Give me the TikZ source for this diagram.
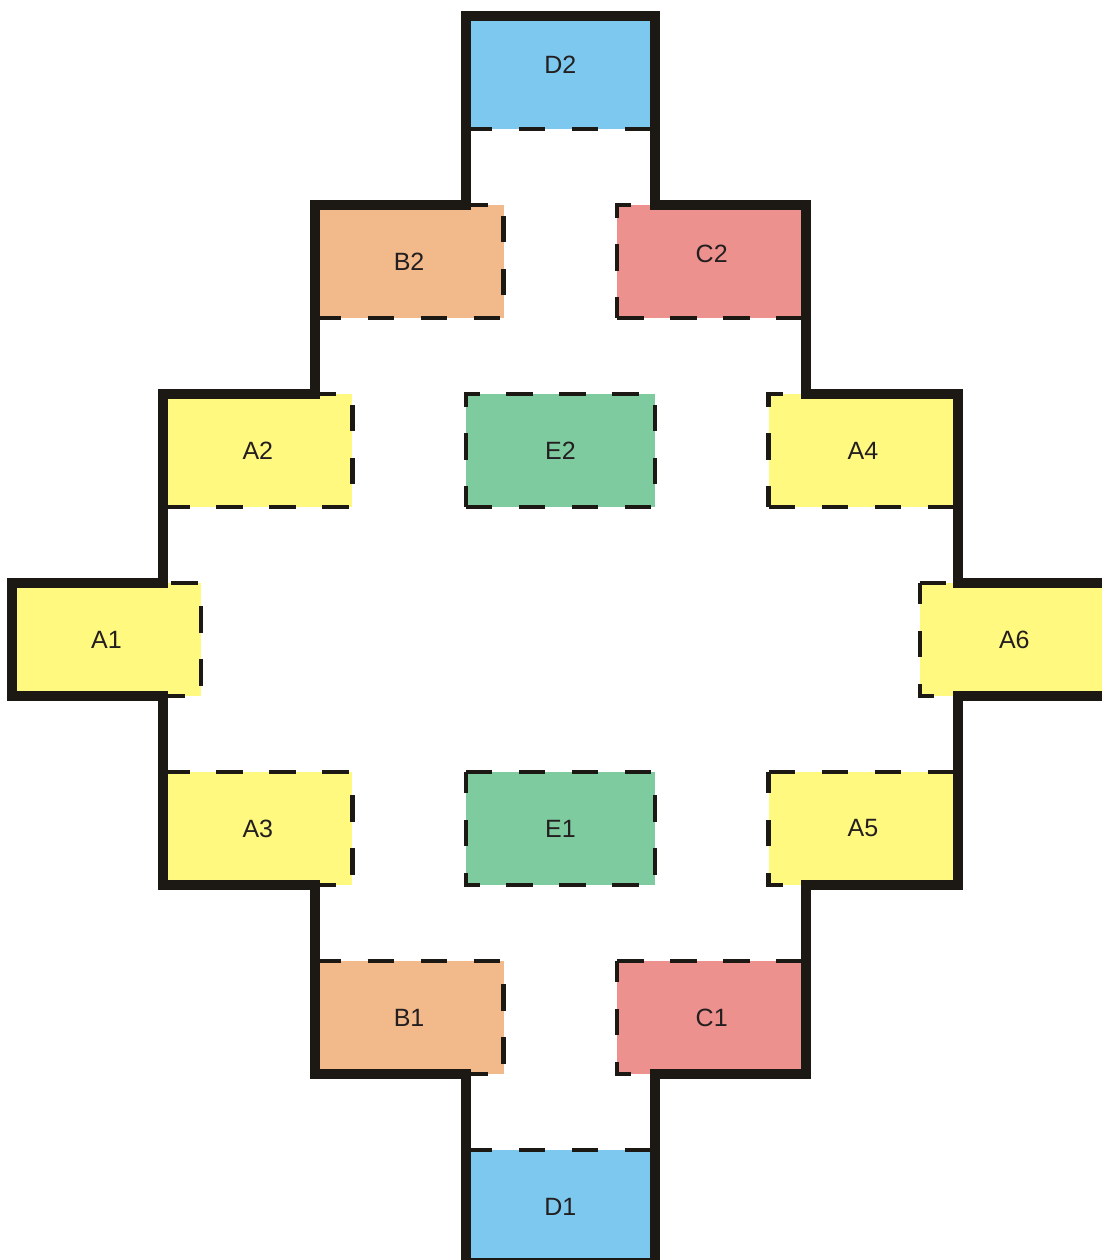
\documentclass[tikz,border=0pt]{standalone}
\usepackage{fontspec}
\setmainfont{Liberation Sans}
\usepackage{tikz}
\usepackage{xcolor}
\usetikzlibrary{positioning, calc}
\definecolor{roomBlue}{HTML}{7DC8EE}
\definecolor{roomOrange}{HTML}{F2B98A}
\definecolor{roomRed}{HTML}{EC918E}
\definecolor{roomYellow}{HTML}{FFF97F}
\definecolor{roomGreen}{HTML}{7FCBA0}
\definecolor{wallBlack}{HTML}{1C1814}
\definecolor{labelGray}{HTML}{231F20}

\begin{document}
\begin{tikzpicture}[x=0.5pt, y=-0.5pt,
  room/.style={minimum width=94.5pt, minimum height=56.5pt, inner sep=0pt,
               outer sep=0pt, text=labelGray, font=\fontsize{12.5}{15}\selectfont},
  doorline/.style={draw=wallBlack, line width=2.25pt,
                   dash pattern=on 13.25pt off 13.25pt},
  wall/.style={draw=wallBlack, line width=5pt, line join=miter},
]
  \useasboundingbox (0,0) rectangle (1102,1260);

  % rooms, top to bottom
  \node[room, fill=roomBlue] (D2) at (560.4,72.5) {\raisebox{8pt}{D2}};
  \node[room, fill=roomOrange] (B2) at (409.1,261.5) {B2};
  \node[room, fill=roomRed] (C2) at (711.7,261.5) {\raisebox{8pt}{C2}};
  \node[room, fill=roomYellow] (A2) at (257.8,450.5) {A2};
  \node[room, fill=roomGreen] (E2) at (560.4,450.5) {E2};
  \node[room, fill=roomYellow] (A4) at (863.0,450.5) {A4};
  \node[room, fill=roomYellow] (A1) at (106.5,639.5) {A1};
  \node[room, fill=roomYellow] (A6) at (1014.3,639.5) {A6};
  \node[room, fill=roomYellow] (A3) at (257.8,828.5) {A3};
  \node[room, fill=roomGreen] (E1) at (560.4,828.5) {E1};
  \node[room, fill=roomYellow] (A5) at (863.0,828.5) {A5};
  \node[room, fill=roomOrange] (B1) at (409.1,1017.5) {B1};
  \node[room, fill=roomRed] (C1) at (711.7,1017.5) {C1};
  \node[room, fill=roomBlue] (D1) at (560.4,1206.5) {D1};

  % dashed room borders
  \foreach \r in {D2,B2,C2,A2,E2,A4}
    \draw[doorline] (\r.south west) -- (\r.south east) -- (\r.north east)
      -- (\r.north west) -- cycle;
  \foreach \r in {A1,A6,A3,E1,A5,B1,C1,D1}
    \draw[doorline] (\r.north west) -- (\r.north east) -- (\r.south east)
      -- (\r.south west) -- cycle;

  % outer wall
  \draw[wall] (D2.north west) -- (D2.north east) -- (D2.east |- C2.north)
    -- (C2.north east) -- (C2.east |- A4.north)
    -- (A4.north east) -- (A4.east |- A6.north)
    -- (A6.north east) -- (A6.south east) -- (A5.east |- A6.south)
    -- (A5.south east) -- (C1.east |- A5.south)
    -- (C1.south east) -- (D1.east |- C1.south)
    -- (D1.south east) -- (D1.south west) -- (D1.west |- B1.south)
    -- (B1.south west) -- (B1.west |- A3.south)
    -- (A3.south west) -- (A3.west |- A1.south)
    -- (A1.south west) -- (A1.north west) -- (A2.west |- A1.north)
    -- (A2.north west) -- (B2.west |- A2.north)
    -- (B2.north west) -- (D2.west |- B2.north) -- cycle;
\end{tikzpicture}
\end{document}
